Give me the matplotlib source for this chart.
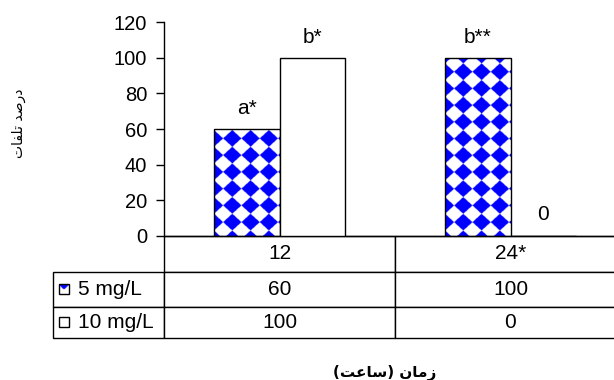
import numpy as np
import matplotlib
matplotlib.use('Agg')
import matplotlib.pyplot as plt
from matplotlib.patches import Rectangle

plt.rcParams['font.family'] = ['Liberation Sans', 'DejaVu Sans']

# data
categories = ['12', '24*']
series_names = ['5 mg/L', '10 mg/L']
dose5 = [60, 100]
dose10 = [100, 0]
labels5 = ['a*', 'b**']
labels10 = ['b*', '0']
yticks = [0, 20, 40, 60, 80, 100, 120]

# Persian labels, written in presentation forms (visual order) so they join
ylabel_txt = '\uFE95\uFE8E\uFED4\uFEE0\uFE97 \uFEAA\uFEBB\uFEAD\uFEA9'   # درصد تلفات
xlabel_txt = '(\uFE96\uFECB\uFE8E\uFEB3) \uFEE5\uFE8E\uFEE3\uFEAF'       # زمان (ساعت)

W, H = 614, 380
fig = plt.figure(figsize=(W / 100, H / 100), dpi=100)
ax_l, ax_r, ax_t, ax_b = 164, 626, 22.3, 235.7
ax = fig.add_axes([ax_l / W, (H - ax_b) / H, (ax_r - ax_l) / W, (ax_b - ax_t) / H])

x = np.arange(len(categories))
w = 0.2857
bars5 = ax.bar(x - w / 2, dose5, w, facecolor='none', edgecolor='black', lw=1.0, zorder=3)
bars10 = ax.bar(x + w / 2, dose10, w, facecolor='white', edgecolor='black', lw=1.0, zorder=3)


def diamond_fill(x0, width, height, px, py, res=3):
    # blue diamonds on white, like the Excel "large checker" fill
    nx = int(66 * res)
    ny = max(int(height * 1.778 * res), 2)
    xs = x0 + (np.arange(nx) + 0.5) / nx * width
    ys = (np.arange(ny) + 0.5) / ny * height
    u = (xs - x0) / px
    v = ys / py - 0.83
    du = np.abs(u - np.round(u))[None, :]
    dv = np.abs(v - np.round(v))[:, None]
    blue = (du + dv) < 0.5
    img = np.ones((ny, nx, 3))
    img[blue] = [0, 0, 1]
    return img


for rect in bars5:
    x0, hgt = rect.get_x(), rect.get_height()
    if hgt <= 0:
        continue
    img = diamond_fill(x0, w, hgt, 18.3 / 231, 9.39)
    im = ax.imshow(img, extent=(x0, x0 + w, 0, hgt), origin='lower',
                   aspect='auto', interpolation='bilinear', zorder=2)
    im.set_clip_path(rect)

for xi, v, t in zip(x - w / 2, dose5, labels5):
    ax.annotate(t, (xi, v), xytext=(0, 15), textcoords='offset points',
                ha='center', va='center', fontsize=15)
for xi, v, t in zip(x + w / 2, dose10, labels10):
    ax.annotate(t, (xi, v), xytext=(0, 15), textcoords='offset points',
                ha='center', va='center', fontsize=15)

ax.set_yticks(yticks)
ax.set_xticks([])
ax.tick_params(axis='y', length=5.5, width=1.0, labelsize=14.5, pad=6.5)
for s in ['top', 'right']:
    ax.spines[s].set_visible(False)
ax.spines['left'].set_linewidth(1.0)
ax.spines['bottom'].set_linewidth(1.0)

# data table under the axis
ax_h = ax_b - ax_t
ax_w = ax_r - ax_l
rl_w = (ax_l - 53) / ax_w
row_px = [36, 35, 31.3]
tab_h = sum(row_px) / ax_h
tbl = ax.table(cellText=[[str(v) for v in dose5], [str(v) for v in dose10]],
               colLabels=categories, colWidths=[0.5, 0.5], cellLoc='center',
               bbox=[0, -tab_h, 1, tab_h])
for r, name in enumerate(series_names):
    tbl.add_cell(r + 1, -1, width=rl_w, height=row_px[r + 1] / ax_h, text=name, loc='left')
tbl.auto_set_font_size(False)
tbl.set_fontsize(15)
for (r, c), cell in tbl.get_celld().items():
    cell.set_linewidth(1.0)
    cell.set_height(row_px[r] / ax_h)
    if c == -1:
        cell.PAD = 25 / (ax_l - 53)

# legend keys in the row labels
row_cy = [235.7 + row_px[0] + row_px[1] / 2, 235.7 + row_px[0] + row_px[1] + row_px[2] / 2]
for i, cy in enumerate(row_cy):
    kx0 = (59 - ax_l) / ax_w
    ky0 = (ax_b - (cy + 5)) / ax_h
    kw, kh = 10 / ax_w, 10 / ax_h
    if i == 0:
        gx, gy = np.meshgrid(np.linspace(0, 1, 20), np.linspace(0, 1, 20))
        key = np.ones((20, 20, 3))
        key[(gy - 0.45) > np.abs(gx - 0.5) * 0.9] = [0, 0, 1]
        ax.imshow(key, extent=(kx0, kx0 + kw, ky0, ky0 + kh), transform=ax.transAxes,
                  origin='lower', aspect='auto', interpolation='bilinear',
                  clip_on=False, zorder=5)
    ax.add_patch(Rectangle((kx0, ky0), kw, kh, transform=ax.transAxes, facecolor='none',
                           edgecolor='black', lw=1.0, clip_on=False, zorder=6))

ax.set_xlim(-0.5, 1.5)
ax.set_ylim(0, 120)

fig.text(19 / W, 1 - 123 / H, ylabel_txt, rotation=90, ha='center', va='center',
         fontsize=10, family=['DejaVu Sans'])
fig.text(385 / W, 1 - 373 / H, xlabel_txt, ha='center', va='center',
         fontsize=11, fontweight='bold', family=['DejaVu Sans'])

fig.savefig('out.png', dpi=100)
